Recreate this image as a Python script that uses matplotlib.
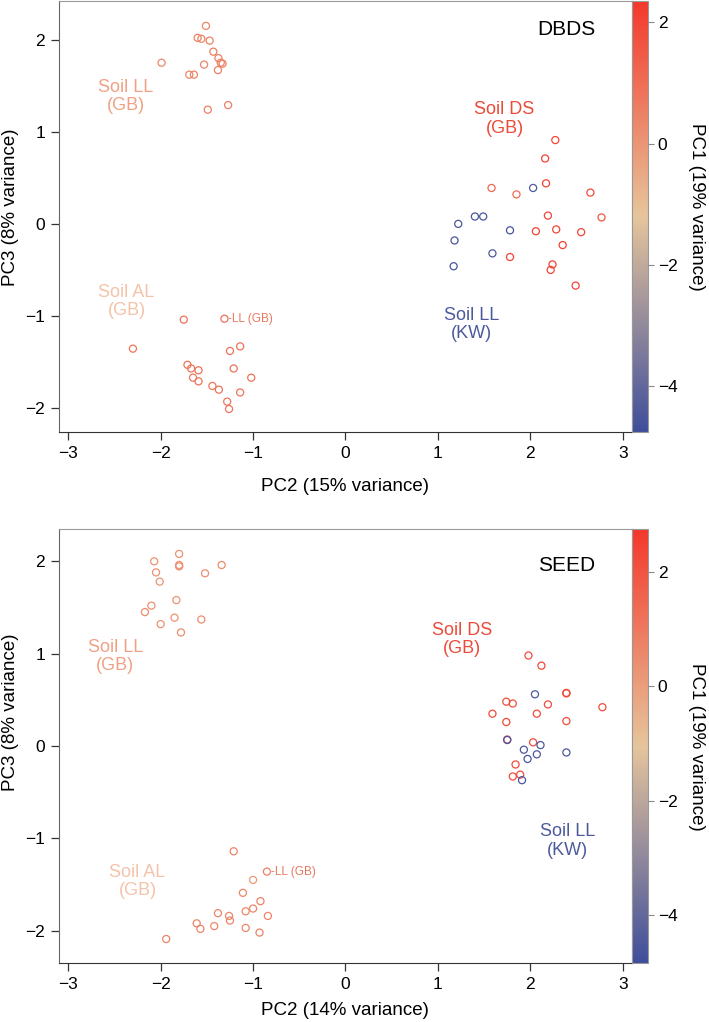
#PCA plot - DBDS e SEED
import numpy as np
import matplotlib
matplotlib.use('Agg')
import matplotlib.pyplot as plt
from matplotlib.colors import LinearSegmentedColormap, Normalize
from matplotlib.cm import ScalarMappable

plt.rcParams['font.family'] = ['Liberation Sans', 'DejaVu Sans']

#1. Dados (PC2, PC3, PC1)
# -- DBDS
dbds_llgb_pc2 = [-1.51, -1.60, -1.56, -1.47, -1.43, -1.375, -1.35, -1.33, -1.99, -1.53, -1.38, -1.69, -1.64, -1.49, -1.27]
dbds_llgb_pc3 = [2.15, 2.02, 2.01, 1.99, 1.87, 1.80, 1.75, 1.74, 1.75, 1.73, 1.67, 1.62, 1.62, 1.24, 1.29]
dbds_llgb_pc1 = [0.4, 0.5, 0.4, 0.5, 0.6, 0.5, 0.6, 0.6, 0.3, 0.4, 0.5, 0.4, 0.4, 0.6, 0.6]

dbds_algb_pc2 = [-1.75, -1.31, -2.30, -1.14, -1.25, -1.71, -1.67, -1.59, -1.21, -1.65, -1.59, -1.02, -1.44, -1.37, -1.14, -1.28, -1.26]
dbds_algb_pc3 = [-1.04, -1.03, -1.355, -1.33, -1.38, -1.53, -1.57, -1.59, -1.57, -1.67, -1.71, -1.67, -1.76, -1.80, -1.83, -1.93, -2.01]
dbds_algb_pc1 = [0.9, 0.9, 0.8, 0.9, 0.9, 0.8, 0.8, 0.9, 0.9, 0.8, 0.9, 0.9, 0.8, 0.9, 0.9, 0.8, 0.8]

dbds_dsgb_pc2 = [2.27, 2.16, 1.58, 1.85, 2.17, 2.65, 2.19, 2.77, 2.06, 2.28, 2.55, 2.35, 1.78, 2.24, 2.22, 2.49]
dbds_dsgb_pc3 = [0.91, 0.71, 0.39, 0.32, 0.44, 0.34, 0.09, 0.07, -0.08, -0.06, -0.09, -0.23, -0.36, -0.44, -0.50, -0.67]
dbds_dsgb_pc1 = [2.0, 2.1, 1.2, 1.0, 2.1, 1.9, 2.0, 1.6, 2.1, 2.0, 2.0, 2.1, 2.0, 2.1, 2.0, 2.0]

dbds_llkw_pc2 = [2.03, 1.40, 1.49, 1.22, 1.78, 1.18, 1.59, 1.17]
dbds_llkw_pc3 = [0.39, 0.08, 0.08, 0.00, -0.07, -0.18, -0.32, -0.46]
dbds_llkw_pc1 = [-4.4, -4.5, -4.5, -4.5, -4.6, -4.5, -4.4, -4.5]

# -- SEED
seed_llgb_pc2 = [-1.80, -2.07, -1.80, -1.80, -1.34, -2.05, -1.52, -2.01, -1.83, -2.10, -2.17, -1.85, -1.56, -2.00, -1.78]
seed_llgb_pc3 = [2.08, 2.00, 1.96, 1.945, 1.96, 1.88, 1.87, 1.78, 1.58, 1.52, 1.45, 1.39, 1.37, 1.32, 1.23]
seed_llgb_pc1 = [0.3, 0.3, 0.4, 0.4, 0.5, 0.3, 0.4, 0.3, 0.3, 0.4, 0.5, 0.3, 0.4, 0.3, 0.4]

seed_algb_pc2 = [-1.21, -0.85, -1.00, -1.11, -0.92, -1.00, -1.08, -1.38, -0.84, -1.26, -1.25, -1.61, -1.57, -1.42, -1.08, -0.93, -1.94]
seed_algb_pc3 = [-1.14, -1.36, -1.45, -1.59, -1.68, -1.76, -1.79, -1.81, -1.84, -1.84, -1.89, -1.92, -1.98, -1.95, -1.97, -2.02, -2.09]
seed_algb_pc1 = [0.7, 0.8, 0.1, 0.6, 0.7, 0.6, 0.6, 0.7, 0.7, 0.6, 0.7, 0.7, 0.7, 0.6, 0.6, 0.7, 0.7]

seed_dsgb_pc2 = [1.98, 2.12, 2.39, 2.39, 1.74, 1.81, 2.19, 2.78, 1.59, 2.07, 1.74, 2.39, 1.75, 2.03, 1.84, 1.81, 1.89]
seed_dsgb_pc3 = [0.98, 0.87, 0.57, 0.575, 0.48, 0.46, 0.45, 0.42, 0.35, 0.35, 0.26, 0.27, 0.07, 0.04, -0.20, -0.33, -0.31]
seed_dsgb_pc1 = [2.2, 2.3, 2.3, 2.3, 2.2, 2.1, 2.2, 2.2, 2.2, 2.2, 2.3, 2.2, 2.2, 2.2, 2.3, 2.2, 2.2]

seed_llkw_pc2 = [2.05, 1.75, 2.11, 1.93, 2.07, 1.97, 2.39, 1.91]
seed_llkw_pc3 = [0.56, 0.065, 0.01, -0.04, -0.09, -0.14, -0.07, -0.37]
seed_llkw_pc1 = [-4.5, -4.6, -4.5, -4.5, -4.5, -4.6, -4.5, -4.5]

#2. Cores e estilo
cmap = LinearSegmentedColormap.from_list('pc1', ['#3F4E9B', '#E6C59B', '#F4382B'])
cor_llgb = '#F0A084'
cor_algb = '#F4C3AA'
cor_dsgb = '#EC4A39'
cor_llkw = '#4C5A9C'

W, H = 709, 1022


def painel(ax, cax, grupos, vmin, vmax, titulo, rotulos, ponto_ll):
    norm = Normalize(vmin=vmin, vmax=vmax)
    for x, y, c in grupos:
        ax.scatter(x, y, s=26, facecolors='none', edgecolors=cmap(norm(np.array(c))), linewidths=0.9, zorder=3)
    ax.set_xlim(-3.1, 3.1)
    ax.set_xticks([-3, -2, -1, 0, 1, 2, 3])
    ax.set_yticks([-2, -1, 0, 1, 2])
    ax.tick_params(length=6, width=0.9, labelsize=12.5, pad=4, color='#333333')
    ax.spines['left'].set_color('#666666')
    ax.spines['bottom'].set_color('#333333')
    ax.spines['top'].set_color('#999999')
    ax.spines['right'].set_color('#999999')
    ax.text(2.39, titulo[1], titulo[0], fontsize=15, ha='center', va='center')
    for txt, px, py, cor in rotulos:
        ax.text(px, py, txt, fontsize=13, color=cor, ha='center', va='center', linespacing=1.1)
    ax.annotate('-LL (GB)', xy=ponto_ll, xytext=(2.6, 0), textcoords='offset points',
                fontsize=8.5, color='#E8785E', ha='left', va='center')

    sm = ScalarMappable(norm=norm, cmap=cmap)
    cb = plt.colorbar(sm, cax=cax)
    cb.set_ticks([-4, -2, 0, 2])
    cb.outline.set_edgecolor('#999999')
    cax.tick_params(length=4, width=0.8, color='#888888', labelsize=12.5, pad=3)


fig = plt.figure(figsize=(7.09, 10.22), dpi=100)

ax1 = fig.add_axes([0.0832, 0.5773, 0.8082, 0.4217])
cax1 = fig.add_axes([0.8914, 0.5773, 0.0226, 0.4217])
ax1.set_ylim(-2.26, 2.42)
painel(ax1, cax1,
       [(dbds_llgb_pc2, dbds_llgb_pc3, dbds_llgb_pc1),
        (dbds_algb_pc2, dbds_algb_pc3, dbds_algb_pc1),
        (dbds_dsgb_pc2, dbds_dsgb_pc3, dbds_dsgb_pc1),
        (dbds_llkw_pc2, dbds_llkw_pc3, dbds_llkw_pc1)],
       -4.75, 2.35, ('DBDS', 2.11),
       [('Soil LL\n(GB)', -2.38, 1.38, cor_llgb),
        ('Soil AL\n(GB)', -2.37, -0.84, cor_algb),
        ('Soil DS\n(GB)', 1.72, 1.14, cor_dsgb),
        ('Soil LL\n(KW)', 1.36, -1.09, cor_llkw)],
       (-1.31, -1.03))

ax2 = fig.add_axes([0.0832, 0.0577, 0.8082, 0.4247])
cax2 = fig.add_axes([0.8914, 0.0577, 0.0226, 0.4247])
ax2.set_ylim(-2.35, 2.35)
painel(ax2, cax2,
       [(seed_llgb_pc2, seed_llgb_pc3, seed_llgb_pc1),
        (seed_algb_pc2, seed_algb_pc3, seed_algb_pc1),
        (seed_dsgb_pc2, seed_dsgb_pc3, seed_dsgb_pc1),
        (seed_llkw_pc2, seed_llkw_pc3, seed_llkw_pc1)],
       -4.84, 2.75, ('SEED', 1.96),
       [('Soil LL\n(GB)', -2.49, 0.97, cor_llgb),
        ('Soil AL\n(GB)', -2.25, -1.47, cor_algb),
        ('Soil DS\n(GB)', 1.26, 1.15, cor_dsgb),
        ('Soil LL\n(KW)', 2.40, -1.03, cor_llkw)],
       (-0.85, -1.36))

# -- rotulos dos eixos (posicoes em pixels)
fig.text(345 / W, 1 - 486 / H, 'PC2 (15% variance)', fontsize=13.5, ha='center', va='center')
fig.text(345 / W, 1 - 1010 / H, 'PC2 (14% variance)', fontsize=13.5, ha='center', va='center')
fig.text(11 / W, 1 - 207 / H, 'PC3 (8% variance)', rotation=90, fontsize=13.5, ha='center', va='center')
fig.text(11 / W, 1 - 712 / H, 'PC3 (8% variance)', rotation=90, fontsize=13.5, ha='center', va='center')
fig.text(697 / W, 1 - 207 / H, 'PC1 (19% variance)', rotation=270, fontsize=13.5, ha='center', va='center')
fig.text(697 / W, 1 - 747 / H, 'PC1 (19% variance)', rotation=270, fontsize=13.5, ha='center', va='center')

fig.savefig('out.png', dpi=100)
